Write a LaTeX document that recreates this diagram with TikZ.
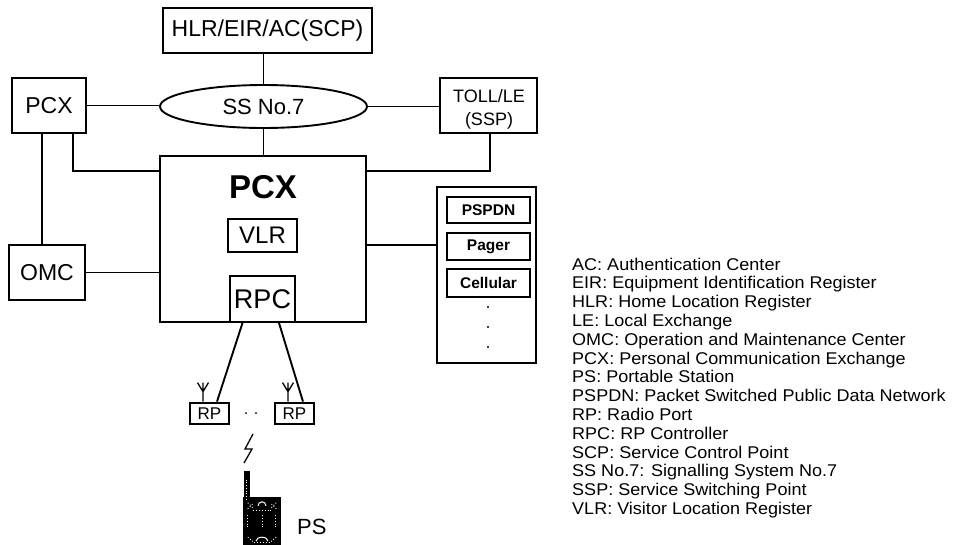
\documentclass[tikz,border=0pt]{standalone}
\usepackage{fontspec}
\setmainfont{Liberation Sans}
\usetikzlibrary{shapes.geometric,calc}
\begin{document}
\begin{tikzpicture}[x=1pt,y=-1pt,
  box/.style={draw,line width=1.9pt,inner sep=0pt,align=center},
  thickbox/.style={draw,line width=2.8pt,inner sep=0pt,align=center},
  conn/.style={line width=1.9pt},
  thin/.style={line width=1.3pt},
  legend/.style={anchor=base west,inner sep=0pt,font=\fontsize{17}{20}\selectfont,xscale=1.06},
  big/.style={font=\fontsize{23}{26}\selectfont},
  small/.style={font=\fontsize{15.5}{17}\selectfont\bfseries}]
\useasboundingbox (0,0) rectangle (954,544);

% upper nodes
\node[box,big,minimum width=209,minimum height=45] (hlr) at (267.5,30.5) {HLR/EIR/AC(SCP)};
\node[draw,line width=1.9pt,ellipse,inner sep=0pt,minimum width=207,minimum height=43,font=\fontsize{22}{26}\selectfont] (ss7) at (263.5,106.5) {SS No.7};
\node[box,big,minimum width=74,minimum height=55] (pcxl) at (49,105.5) {PCX};
\node[box,minimum width=97,minimum height=55] (toll) at (488.5,105.5) {};
\node[inner sep=0pt,align=center,font=\fontsize{18}{23}\selectfont] (tollt) at (489,109) {TOLL/LE\\(SSP)};
\node[box,big,minimum width=76,minimum height=55] (omc) at (47,272.5) {OMC};

% main PCX
\node[box,minimum width=206,minimum height=166] (main) at (263,239) {};
\node[inner sep=0pt,anchor=base,font=\fontsize{33}{36}\selectfont\bfseries] (pcxt) at (263,198) {PCX};
\node[box,minimum width=69,minimum height=33,font=\fontsize{24}{26}\selectfont] (vlr) at (262.5,235.5) {VLR};
\node[box,minimum width=65,minimum height=46,font=\fontsize{27}{30}\selectfont] (rpc) at (262.5,299) {RPC};

% other networks
\node[box,minimum width=99,minimum height=176] (stack) at (486.5,275) {};
\node[thickbox,small,minimum width=83,minimum height=26] (pspdn) at (488.5,210) {PSPDN};
\node[thickbox,small,minimum width=83,minimum height=27] (pager) at (488.5,246.5) {Pager};
\node[thickbox,small,minimum width=83,minimum height=28] (cell) at (488.5,283) {Cellular};
\foreach \yy/\nm in {307/sd1,327/sd2,347/sd3}
  \fill (488,\yy) circle (1.2) coordinate (\nm);

% radio ports
\node[thickbox,minimum width=39,minimum height=21,font=\fontsize{17}{17}\selectfont] (rpl) at (209.5,413.5) {RP};
\node[thickbox,minimum width=39,minimum height=21,font=\fontsize{17}{17}\selectfont] (rpr) at (294.5,413.5) {RP};
\foreach \nd in {rpl,rpr}{
  \draw[thin] ([xshift=-6.5pt]\nd.north) -- ++(0pt,19pt)
        ++(-5.5pt,0pt) -- ++(5.5pt,-9pt) -- ++(5.5pt,9pt);
}
\fill (246,413) circle (1) coordinate (d1);
\fill (256,413) circle (1) coordinate (d2);

% connectors
\draw[conn] (hlr.south -| ss7.north) -- (ss7.north);
\draw[conn] (pcxl.east) -- (pcxl.east -| ss7.west);
\draw[conn] (ss7.east) -- (ss7.east -| toll.west);
\draw[conn] (ss7.south) -- (ss7.south |- main.north);
\draw[conn] ([xshift=24pt]pcxl.south) |- ([yshift=-16pt]main.north west);
\draw[conn] ([xshift=1.5pt]toll.south) |- ([yshift=-16pt]main.north east);
\draw[conn] ([xshift=-7pt]pcxl.south) -- ([xshift=-7pt]pcxl.south |- omc.north);
\draw[conn] (omc.east) -- (omc.east -| main.west);
\draw[conn] ([yshift=-6pt]main.east) -- ([yshift=-6pt]main.east -| stack.west);
\draw[conn] ([xshift=-20pt]rpc.south) -- ([xshift=7.5pt]rpl.north);
\draw[conn] ([xshift=16.5pt]rpc.south) -- ([xshift=8.5pt]rpr.north);

% lightning
\draw[thin,line join=miter] (253,434) -- (245,449) -- (252,449) -- (244,463);

% portable station
\node[fill=black,inner sep=0pt,minimum width=38,minimum height=48] (phone) at (262,521) {};
\fill ([xshift=1pt]phone.north west) rectangle ++(6pt,26pt) coordinate (ant);
\draw[white,line width=0.8pt,dotted] ([xshift=4pt,yshift=-3pt]phone.north west) -- ++(0pt,20pt);
\draw[white,line width=0.9pt,dotted] ([xshift=5pt,yshift=-6pt]phone.north west) -- ++(6pt,-6pt)
   ([xshift=5pt,yshift=-12pt]phone.north west) -- ++(6pt,6pt);
\draw[white,line width=0.9pt,dotted] ([xshift=-5pt,yshift=-6pt]phone.north east) -- ++(-6pt,-6pt)
   ([xshift=-5pt,yshift=-12pt]phone.north east) -- ++(-6pt,6pt);
\draw[white,line width=1pt] ([xshift=-4pt,yshift=-9pt]phone.north) arc (180:0:4pt);
\draw[white,line width=0.9pt,dotted] ([xshift=-9pt,yshift=-14pt]phone.north) -- ++(18pt,0pt);
\draw[white,line width=0.9pt,dotted] ([xshift=5pt,yshift=-18pt]phone.north west) -- ++(0pt,-14pt)
   ([xshift=0pt,yshift=-18pt]phone.north) -- ++(0pt,-14pt)
   ([xshift=-6pt,yshift=-18pt]phone.north east) -- ++(0pt,-14pt);
\draw[white,line width=0.9pt,dotted] ([xshift=5pt,yshift=8pt]phone.south west) -- ++(6pt,-5pt)
   ([xshift=-5pt,yshift=8pt]phone.south east) -- ++(-6pt,-5pt);
\draw[white,line width=1pt] ([xshift=-6pt,yshift=4pt]phone.south) arc (180:0:6pt and 4pt);
\draw[white,line width=0.9pt,dotted] ([xshift=-8pt,yshift=3pt]phone.south) -- ++(16pt,0pt);
\node[anchor=base west,inner sep=0pt,font=\fontsize{22}{24}\selectfont] (ps) at (297,534) {PS};

% legend
\foreach \txt [count=\i from 0] in {
  AC: Authentication Center,
  EIR: Equipment Identification Register,
  HLR: Home Location Register,
  LE: Local Exchange,
  OMC: Operation and Maintenance Center,
  PCX: Personal Communication Exchange,
  PS: Portable Station,
  PSPDN: Packet Switched Public Data Network,
  RP: Radio Port,
  RPC: RP Controller,
  SCP: Service Control Point,
  SS No.7: Signalling System No.7,
  SSP: Service Switching Point,
  VLR: Visitor Location Register}
  \node[legend] (leg\i) at (572,{270+18.8*\i}) {\txt};
\end{tikzpicture}
\end{document}
